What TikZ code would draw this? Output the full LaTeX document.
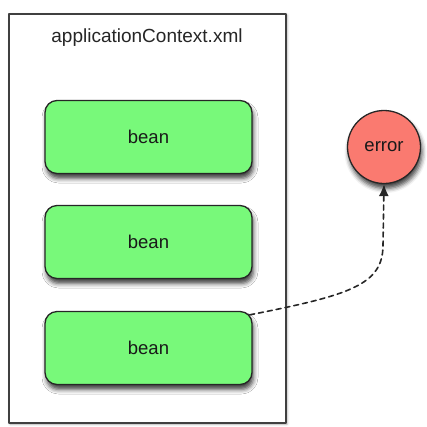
\documentclass[tikz,border=0pt]{standalone}
\usepackage{fontspec}
\setmainfont{Liberation Sans}
\usetikzlibrary{arrows.meta,calc,positioning,shadows.blur}
\definecolor{beangreen}{RGB}{120,249,122}
\definecolor{errred}{RGB}{250,122,112}

\begin{document}
\begin{tikzpicture}[x=1pt,y=-1pt,line join=round,line cap=round,
		ctx/.style={draw=black!75,line width=1.3pt,fill=white,minimum width=277pt,minimum height=409pt,inner sep=0pt,
			blur shadow={shadow xshift=1pt,shadow yshift=-1pt,shadow blur radius=2.5pt,shadow opacity=30}},
		bean/.style={draw=black!85,line width=1.3pt,fill=beangreen,rounded corners=12pt,minimum width=207pt,minimum height=73pt,
			font=\fontsize{18.5}{22}\selectfont,text=black!90,
			blur shadow={shadow xshift=1.5pt,shadow yshift=-5pt,shadow blur radius=4.5pt,shadow opacity=75}},
		err/.style={circle,draw=black!85,line width=1.3pt,fill=errred,minimum size=73pt,inner sep=0pt,
			font=\fontsize{18.5}{22}\selectfont,text=black!90,
			blur shadow={shadow xshift=1.5pt,shadow yshift=-5pt,shadow blur radius=4.5pt,shadow opacity=75}}]
		\useasboundingbox (0,0) rectangle (427,426);
		\node[ctx] (ctx) at (147.5,218.5) {};
		\node[font=\fontsize{19}{22}\selectfont,text=black!85] (title) at (147,38) {applicationContext.xml};
		\foreach \i/\y in {1/137,2/242,3/348}{\node[bean] (b\i) at (148.5,\y) {bean};}
		\node[err] (err) at (384,147) {error};
		\draw[black!85,line width=1.6pt,dash pattern=on 5pt off 4pt,-{Latex[length=12pt,width=10pt]}] ($(b3.north east)+(-3,4)$) .. controls (350,295) and (383,285) .. (383,245) -- (err.south);
\end{tikzpicture}
\end{document}
